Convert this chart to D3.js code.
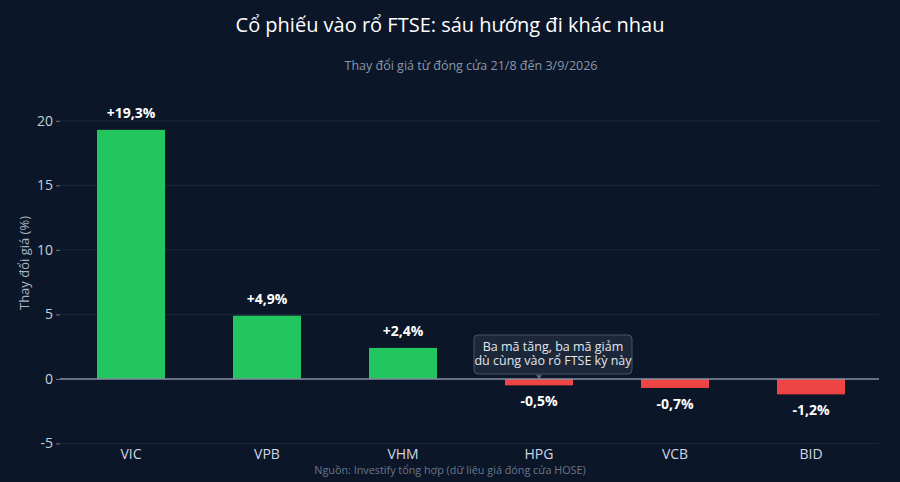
<!DOCTYPE html>
<html><head><meta charset="utf-8">
<script src="https://cdn.jsdelivr.net/npm/d3@7"></script>
<style>html,body{margin:0;padding:0;background:#0b1628;}svg{display:block;}</style>
</head><body>
<svg id="c" width="900" height="482"></svg>
<script>
const categories = ["VIC","VPB","VHM","HPG","VCB","BID"];
const values = [19.3, 4.9, 2.4, -0.5, -0.7, -1.2];
const labels = ["+19,3%","+4,9%","+2,4%","-0,5%","-0,7%","-1,2%"];
const yTicks = [-5, 0, 5, 10, 15, 20];
const titleText = "Cổ phiếu vào rổ FTSE: sáu hướng đi khác nhau";
const subtitleText = "Thay đổi giá từ đóng cửa 21/8 đến 3/9/2026";
const yTitle = "Thay đổi giá (%)";
const sourceText = "Nguồn: Investify tổng hợp (dữ liệu giá đóng cửa HOSE)";
const noteLines = ["Ba mã tăng, ba mã giảm", "dù cùng vào rổ FTSE kỳ này"];
const noteTarget = "HPG";

(function () {
const W = 900, H = 482;
const font = "'Open Sans','Noto Sans',sans-serif";
const svg = d3.select("#c");
svg.append("rect").attr("width", W).attr("height", H).attr("fill", "#0b1628");

const pL = 63, pR = 879, pT = 95, pB = 446;
const x = d3.scaleBand().domain(categories).range([pL, pR]).paddingInner(0.5).paddingOuter(0.25);
const y = d3.scaleLinear().domain([-5.2, 22]).range([pB, pT]);

const yAxis = d3.axisLeft(y).tickValues(yTicks).tickSize(4).tickPadding(3).tickFormat(d => d < 0 ? "-" + Math.abs(d) : d);
const gy = svg.append("g").attr("transform", `translate(${pL - 3},0)`).call(yAxis);
gy.select(".domain").remove();
gy.selectAll(".tick line").attr("stroke", "#6b7689").attr("stroke-width", 1);
gy.selectAll(".tick text").attr("fill", "#c8d0dc").attr("font-size", 14).attr("font-family", font);

svg.append("g").selectAll("line").data(yTicks.filter(d => d !== 0)).join("line")
  .attr("x1", pL - 3).attr("x2", pR).attr("y1", d => y(d)).attr("y2", d => y(d))
  .attr("stroke", "#1c2839").attr("stroke-width", 1);

svg.append("g").selectAll("rect").data(values).join("rect")
  .attr("x", (d, i) => x(categories[i]))
  .attr("width", x.bandwidth())
  .attr("y", d => y(Math.max(0, d)))
  .attr("height", d => Math.abs(y(d) - y(0)))
  .attr("fill", d => d >= 0 ? "#22c55e" : "#ef4444");

svg.append("line").attr("x1", pL - 3).attr("x2", pR).attr("y1", y(0)).attr("y2", y(0))
  .attr("stroke", "#8791a3").attr("stroke-width", 1.5);

svg.append("g").selectAll("text").data(values).join("text")
  .attr("x", (d, i) => x(categories[i]) + x.bandwidth() / 2)
  .attr("y", d => d >= 0 ? y(d) - 12 : y(d) + 21)
  .attr("text-anchor", "middle")
  .attr("fill", "#ffffff").attr("font-weight", "bold").attr("font-size", 14).attr("font-family", font)
  .text((d, i) => labels[i]);

const xAxis = d3.axisBottom(x).tickSize(0).tickPadding(0);
const gx = svg.append("g").attr("transform", `translate(0,${pB})`).call(xAxis);
gx.select(".domain").remove();
gx.selectAll(".tick text").attr("fill", "#d0d7e2").attr("font-size", 14).attr("font-family", font).attr("dy", "0.95em").attr("y", 0);

svg.append("text").attr("x", 450).attr("y", 32).attr("text-anchor", "middle")
  .attr("fill", "#ffffff").attr("font-size", 20).attr("font-family", font).text(titleText);
svg.append("text").attr("x", 471).attr("y", 70).attr("text-anchor", "middle")
  .attr("fill", "#8a96a8").attr("font-size", 12.5).attr("font-family", font).text(subtitleText);
svg.append("text").attr("transform", "translate(29,263) rotate(-90)").attr("text-anchor", "middle")
  .attr("fill", "#aab4c3").attr("font-size", 13).attr("font-family", font).text(yTitle);
svg.append("text").attr("x", 450).attr("y", 474).attr("text-anchor", "middle")
  .attr("fill", "#6b7689").attr("font-size", 10.8).attr("font-family", font).text(sourceText);

const ax = x(noteTarget) + x.bandwidth() / 2;
const bx = 553, bw = 158, bh = 39, by = 335;
svg.append("line").attr("x1", ax).attr("x2", ax).attr("y1", by + bh).attr("y2", y(0) - 1)
  .attr("stroke", "#8791a3").attr("stroke-width", 1);
svg.append("path").attr("d", `M${ax - 2.5},${y(0) - 4} L${ax},${y(0) - 1} L${ax + 2.5},${y(0) - 4}`)
  .attr("fill", "none").attr("stroke", "#8791a3").attr("stroke-width", 1);
svg.append("rect").attr("x", bx - bw / 2).attr("y", by).attr("width", bw).attr("height", bh).attr("rx", 4)
  .attr("fill", "#1e293b").attr("fill-opacity", 0.92).attr("stroke", "#475467").attr("stroke-width", 1);
const note = svg.append("text").attr("x", bx).attr("y", by + 16).attr("text-anchor", "middle")
  .attr("fill", "#e2e8f0").attr("font-size", 12.5).attr("font-family", font);
note.selectAll("tspan").data(noteLines).join("tspan")
  .attr("x", bx).attr("dy", (d, i) => i === 0 ? 0 : 14).text(d => d);
})();
</script>
</body></html>
